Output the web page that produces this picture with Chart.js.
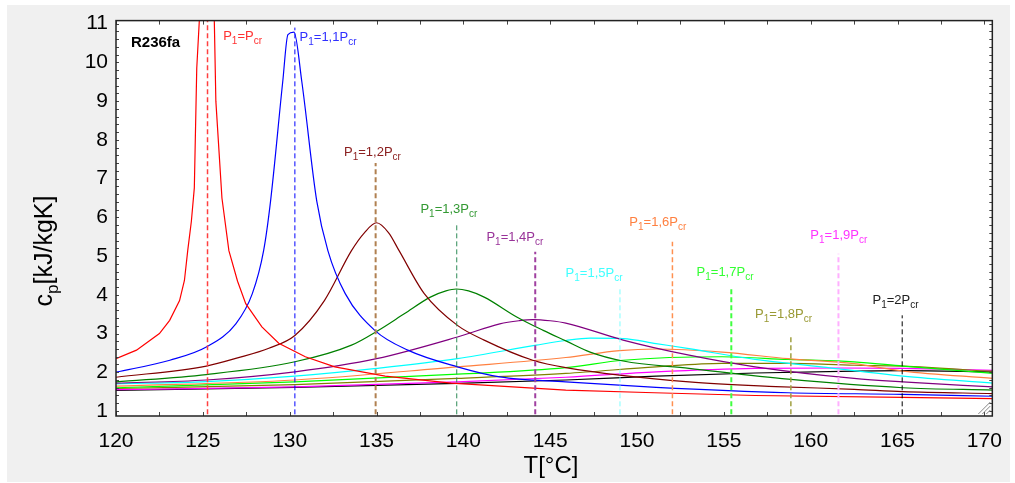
<!DOCTYPE html>
<html><head><meta charset="utf-8">
<script src="https://cdn.jsdelivr.net/npm/chart.js@4.4.1/dist/chart.umd.min.js"></script>
<style>html,body{margin:0;padding:0;background:#fff;overflow:hidden}canvas{display:block}</style>
</head><body>
<canvas id="c" width="1015" height="483"></canvas>
<script>
// ---- data (T in °C, cp in kJ/kgK) ----
const T_P10  = [120,121.18,122.5,123.09,123.66,123.94,124.13,124.34,124.51,124.65,124.8,125.25,125.66,125.75,126.1,126.5,127.0,127.47,128.4,129.37,130.9,132.6,135.5,139.3,145.9,151,156.8,165.3,170.5];
const CP_P10 = [2.35,2.57,3.0,3.34,3.85,4.37,5.14,5.9,6.76,9.85,11.1,60,11.1,9.0,6.5,5.14,4.35,3.77,3.17,2.75,2.4,2.14,1.9,1.72,1.54,1.47,1.40,1.35,1.32];
const T_P11  = [120,123.1,125.2,126.9,127.85,128.5,128.9,129.6,129.9,130.25,130.7,131.56,132.2,133.2,134.9,136.8,139.66,142.1,145.9,151.1,158.7,165.3,170.5];
const CP_P11 = [2.0,2.31,2.65,3.25,4.03,5.14,6.42,9.5,10.72,10.78,9.5,6.42,5.14,4.03,3.08,2.57,2.14,1.88,1.75,1.61,1.47,1.43,1.38];
const T_P12  = [120,125.2,127,128.8,130.3,132.0,133.56,134.3,135.0,135.7,136.3,137.75,139.66,141.2,144.0,145.9,153,158,162.5,165.3,170.5];
const CP_P12 = [1.87,2.16,2.37,2.62,2.95,3.85,5.14,5.6,5.86,5.6,5.14,4.03,3.21,2.83,2.31,2.12,1.75,1.63,1.56,1.5,1.45];
const T_P13  = [120,125.2,130.3,133.56,135.1,136.6,138.1,139.0,139.6,140.3,141.2,143.1,144.6,145.9,147.3,149.2,153,158.7,165.3,170.5];
const CP_P13 = [1.75,1.94,2.27,2.7,3.08,3.51,3.94,4.1,4.15,4.1,3.94,3.42,3.08,2.81,2.52,2.29,2.1,1.82,1.6,1.54];
const T_P14  = [120,125.2,130.3,135,139.66,142.1,143.2,144.0,145,145.9,149.2,153,156.8,162.5,165.3,170.5];
const CP_P14 = [1.72,1.8,2.01,2.35,2.91,3.25,3.33,3.36,3.33,3.27,2.83,2.44,2.14,1.84,1.75,1.62];
const T_P15  = [120,125.2,130.3,135,139.66,144.2,145.9,147.3,149.2,151.1,153,156.8,160.6,165.3,170.5];
const CP_P15 = [1.7,1.76,1.9,2.1,2.35,2.7,2.82,2.88,2.87,2.74,2.61,2.33,2.14,1.9,1.72];
const T_P16  = [120,130.3,139.66,145.9,149,151.1,154.9,158.7,162.5,165.3,170.5];
const CP_P16 = [1.64,1.8,2.14,2.38,2.56,2.6,2.52,2.35,2.22,2.03,1.84];
const T_P17  = [120,130.3,139.66,145.9,149.2,154.9,158.7,162.5,165.3,170.5];
const CP_P17 = [1.6,1.75,1.95,2.12,2.31,2.4,2.33,2.27,2.16,1.97];
const T_P18  = [120,130.3,139.66,145.9,151.1,154.9,158.7,162.5,165.3,170.5];
const CP_P18 = [1.58,1.68,1.84,1.97,2.14,2.23,2.23,2.18,2.16,2.02];
const T_P19  = [120,130.3,139.66,145.9,151.1,156.8,161.6,165.3,170.5];
const CP_P19 = [1.55,1.62,1.75,1.87,2.01,2.1,2.11,2.1,2.05];
const T_P20  = [120,130.3,139.66,145.9,151.1,156.8,162.5,165.3,170.5];
const CP_P20 = [1.53,1.61,1.71,1.8,1.9,1.98,2.03,2.04,2.01];

// pressure ratio labels (P1 = ratio * Pcr)
const ratioLabels = ['', '1,1', '1,2', '1,3', '1,4', '1,5', '1,6', '1,7', '1,8', '1,9', '2'];
// pseudo-critical temperature markers
const markerT   = [125.27,130.3,134.95,139.62,144.14,149.02,152.04,155.43,158.86,161.6,165.27];
const markerTop = [11.08,10.9,7.4,5.83,5.11,4.19,5.37,4.16,2.95,5.06,3.47];
// label anchors (data coords)
const labelT  = [126.17,130.57,133.13,137.53,141.33,145.89,149.56,153.43,156.8,159.98,163.56];
const labelCp = [10.70,10.66,7.71,6.23,5.50,4.59,5.89,4.60,3.53,5.56,3.87];
const xTicks = [120,125,130,135,140,145,150,155,160,165,170];

const seriesT  = [T_P10,T_P11,T_P12,T_P13,T_P14,T_P15,T_P16,T_P17,T_P18,T_P19,T_P20];
const seriesCp = [CP_P10,CP_P11,CP_P12,CP_P13,CP_P14,CP_P15,CP_P16,CP_P17,CP_P18,CP_P19,CP_P20];

// ---- styles ----
const curveColors = ['#ff0000','#0000ff','#800000','#008000','#800080','#00ffff','#ff8040','#00ff00','#808000','#ff00ff','#000000'];
const dashColors  = ['#ff4040','#0000ff','#b08050','#2e8b57','#a040a0','#80ffff','#ff9050','#40ff40','#a0a040','#ffb0ff','#000000'];
const dashWidths  = [1.5,1,2,1,2,1,1.5,2,1.5,2,1];
const labelColors = ['#ff3030','#3030ff','#8b2020','#339933','#993399','#40ffff','#ff8040','#33ff33','#999933','#ff33ff','#202020'];
const FONT = '"Liberation Sans", Arial, sans-serif';

const datasets = [];
seriesT.forEach((ts, i) => {
  const ds = {
    data: ts.map((t, k) => ({x: t, y: seriesCp[i][k]})),
    borderColor: curveColors[i], borderWidth: 1.2, pointRadius: 0,
    fill: false, order: 2
  };
  if (i === 0) { ds.tension = 0; } else { ds.cubicInterpolationMode = 'monotone'; }
  datasets.push(ds);
});
markerT.forEach((t, i) => {
  datasets.push({
    data: [{x: t, y: 0.5}, {x: t, y: markerTop[i]}],
    borderColor: dashColors[i], borderWidth: dashWidths[i], borderDash: [5, 3],
    pointRadius: 0, fill: false, order: 1
  });
});

function drawParts(ctx, x, y, parts, size, subSize, subOff) {
  let cx = x;
  parts.forEach(p => {
    ctx.font = (p.sub ? subSize : size) + 'px ' + FONT;
    ctx.fillText(p.t, cx, y + (p.sub ? subOff : 0));
    cx += ctx.measureText(p.t).width;
  });
  return cx - x;
}
function partsWidth(ctx, parts, size, subSize) {
  let w = 0;
  parts.forEach(p => { ctx.font = (p.sub ? subSize : size) + 'px ' + FONT; w += ctx.measureText(p.t).width; });
  return w;
}

const decor = {
  id: 'decor',
  beforeDraw(chart) {
    const ctx = chart.ctx, a = chart.chartArea;
    ctx.save();
    ctx.fillStyle = '#ffffff'; ctx.fillRect(0, 0, chart.width, chart.height);
    ctx.fillStyle = '#f0f0f0'; ctx.fillRect(7, 5, 1003, 477);
    ctx.fillStyle = '#ffffff'; ctx.fillRect(a.left, a.top, a.right - a.left, a.bottom - a.top);
    ctx.restore();
  },
  afterDraw(chart) {
    const ctx = chart.ctx, a = chart.chartArea, xs = chart.scales.x, ys = chart.scales.y;
    ctx.save();
    // inner ticks
    ctx.strokeStyle = '#444'; ctx.lineWidth = 1;
    ctx.beginPath();
    for (let v = 120; v <= 170.01; v += 2.5) {
      const px = Math.round(xs.getPixelForValue(v)) + 0.5;
      ctx.moveTo(px, a.bottom); ctx.lineTo(px, a.bottom - 4);
      ctx.moveTo(px, a.top); ctx.lineTo(px, a.top + 4);
    }
    for (let k = 0; k <= 50; k++) {
      const v = 1 + k * 0.2;
      const py = Math.round(ys.getPixelForValue(v)) + 0.5;
      ctx.moveTo(a.left, py); ctx.lineTo(a.left + 3, py);
      ctx.moveTo(a.right, py); ctx.lineTo(a.right - 3, py);
    }
    ctx.stroke();
    // frame
    ctx.strokeStyle = '#222'; ctx.lineWidth = 1.5;
    ctx.strokeRect(a.left, a.top, a.right - a.left, a.bottom - a.top);
    // grip
    ctx.strokeStyle = '#888'; ctx.lineWidth = 1;
    ctx.beginPath();
    [4, 8, 12].forEach(k => { ctx.moveTo(a.right - 2 - k, a.bottom - 2); ctx.lineTo(a.right - 2, a.bottom - 2 - k); });
    ctx.stroke();
    // series labels
    ctx.textBaseline = 'alphabetic'; ctx.textAlign = 'left';
    ratioLabels.forEach((r, i) => {
      const px = xs.getPixelForValue(labelT[i]);
      const py = ys.getPixelForValue(labelCp[i]) + 4.6;
      ctx.fillStyle = labelColors[i];
      drawParts(ctx, px, py, [{t:'P'},{t:'1',sub:true},{t:'=' + r + 'P'},{t:'cr',sub:true}], 13, 10, 4);
    });
    // substance name
    ctx.fillStyle = '#000';
    ctx.font = 'bold 15px ' + FONT;
    ctx.fillText('R236fa', 131, 47);
    // x title
    ctx.font = '24px ' + FONT;
    ctx.textAlign = 'center';
    ctx.fillText('T[°C]', 551, 473);
    // y title
    ctx.textAlign = 'left';
    const yParts = [{t:'c'},{t:'p',sub:true},{t:'[kJ/kgK]'}];
    ctx.translate(52, 251); ctx.rotate(-Math.PI / 2);
    const w = partsWidth(ctx, yParts, 25, 17);
    drawParts(ctx, -w / 2, 0, yParts, 25, 17, 6);
    ctx.restore();
  }
};

new Chart(document.getElementById('c'), {
  type: 'line',
  data: { datasets },
  options: {
    responsive: false, animation: false, devicePixelRatio: 1,
    layout: { padding: { left: 0, top: 19, right: 16, bottom: 0 } },
    plugins: { legend: { display: false }, tooltip: { enabled: false }, title: { display: false } },
    events: [],
    scales: {
      x: {
        type: 'linear', min: 120, max: 170.46,
        afterFit: s => { s.height = 67; },
        grid: { display: false, drawTicks: false }, border: { display: false },
        afterBuildTicks: s => { s.ticks = xTicks.map(v => ({value: v})); },
        ticks: { font: { family: FONT, size: 21 }, color: '#000', padding: 13, maxRotation: 0, autoSkip: false }
      },
      y: {
        type: 'linear', min: 0.87, max: 11.08,
        afterFit: s => { s.width = 116; },
        grid: { display: false, drawTicks: false }, border: { display: false },
        ticks: { stepSize: 1, includeBounds: false, font: { family: FONT, size: 21 }, color: '#000', padding: 8 }
      }
    }
  },
  plugins: [decor]
});
</script>
</body></html>
